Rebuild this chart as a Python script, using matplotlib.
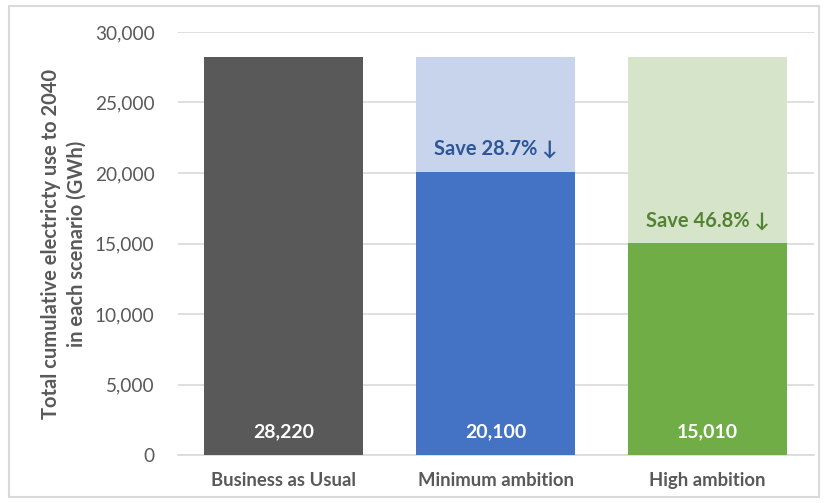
import matplotlib.pyplot as plt
from matplotlib.patches import Rectangle

# Data
categories = ['Business as Usual', 'Minimum ambition', 'High ambition']
values = [28220, 20100, 15010]
baseline = 28220
save_labels = ['', 'Save 28.7% \u2193', 'Save 46.8% \u2193']

bar_colors = ['#595959', '#4472C4', '#70AD47']
ghost_colors = ['#595959', '#C7D4EC', '#D6E5CA']
save_colors = ['#2F5597', '#2F5597', '#548235']

plt.rcParams['font.family'] = ['Lato', 'DejaVu Sans']

fig = plt.figure(figsize=(8.28, 5.03), dpi=100)
ax = fig.add_axes([0.215, 0.0954, 0.7675, 0.841])

# outer chart border
fig.patches.append(Rectangle((9 / 828, 6 / 503), 810 / 828, 491 / 503,
                             transform=fig.transFigure, fill=False,
                             edgecolor='#D9D9D9', linewidth=1.5))

x = list(range(len(categories)))
# light "ghost" bar up to the baseline, then the real value on top of it
ax.bar(x, [baseline] * len(x), width=0.75, color=ghost_colors, zorder=2)
ax.bar(x, values, width=0.75, color=bar_colors, zorder=3)

for i, v in enumerate(values):
    ax.text(i, 1650, f'{v:,}', ha='center', va='center', color='white',
            fontsize=14, fontweight='bold', zorder=4)
    if save_labels[i]:
        ax.text(i, v + 1650, save_labels[i], ha='center', va='center',
                color=save_colors[i], fontsize=14.5, fontweight='bold',
                family=['Lato', 'DejaVu Sans'], zorder=4)

ax.set_xlim(-0.5, 2.5)
ax.set_ylim(0, 30000)
ax.set_yticks(range(0, 30001, 5000))
ax.set_yticklabels([f'{t:,}' for t in range(0, 30001, 5000)])
ax.set_xticks(x)
ax.set_xticklabels(categories, fontweight='bold')

ax.grid(axis='y', color='#D9D9D9', linewidth=1.2, zorder=0)
for s in ['top', 'right', 'left']:
    ax.spines[s].set_visible(False)
ax.spines['bottom'].set_color('#D9D9D9')
ax.spines['bottom'].set_linewidth(1.2)

ax.tick_params(axis='y', length=0, labelsize=13.7, labelcolor='#595959', pad=17)
ax.tick_params(axis='x', length=0, labelsize=13.3, labelcolor='#595959', pad=12)

ax.set_ylabel('Total cumulative electricty use to 2040\nin each scenario (GWh)',
              fontsize=14.5, fontweight='bold', color='#595959', labelpad=6,
              linespacing=1.35)

fig.savefig('out.png', dpi=100)
